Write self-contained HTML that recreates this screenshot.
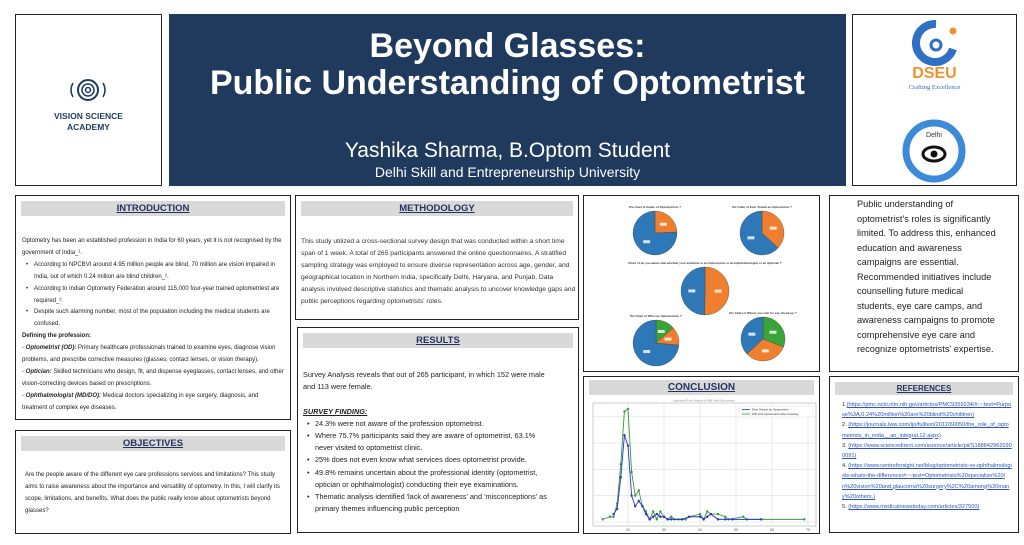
<!DOCTYPE html>
<html><head><meta charset="utf-8"><style>
*{margin:0;padding:0;box-sizing:border-box}
body{width:1024px;height:545px;background:#fff;font-family:"Liberation Sans",sans-serif;position:relative;overflow:hidden;color:#222}
.box{position:absolute;border:1.5px solid #222;background:#fff;overflow:hidden}
.hd{position:absolute;left:5px;right:5px;top:5px;height:15px;background:#d9d9d9;text-align:center;font-weight:bold;font-size:9.5px;line-height:15px;color:#26325e;text-decoration:underline}
.tx{position:absolute;font-size:6px;line-height:11.4px;color:#222}
ul{list-style:none}
li{position:relative;padding-left:12px}
li:before{content:"•";position:absolute;left:4px}
a{color:#2b55c4;text-decoration:underline}
</style></head><body>
<div class="box" style="left:15px;top:14px;width:147px;height:172px">
<svg width="40" height="30" style="position:absolute;left:52px;top:60px">
<circle cx="20" cy="15" r="10" fill="none" stroke="#1e3a5f" stroke-width="2"/><circle cx="20" cy="15" r="6" fill="none" stroke="#1e3a5f" stroke-width="1.5"/><circle cx="20" cy="15" r="2.5" fill="none" stroke="#1e3a5f" stroke-width="1.5"/>
<path d="M5 8 Q1 15 5 22 M35 8 Q39 15 35 22" fill="none" stroke="#1e3a5f" stroke-width="1.5"/></svg>
<div style="position:absolute;left:0;right:0;top:96px;text-align:center;font-weight:bold;font-size:8.5px;line-height:11px;color:#1e3a5f">VISION SCIENCE<br>ACADEMY</div>
</div>
<div style="position:absolute;left:169px;top:14px;width:677px;height:172px;background:#203a5e;color:#fff;text-align:center">
<div style="position:absolute;left:0;right:0;top:14px;font-weight:bold;font-size:34px;line-height:37px">Beyond Glasses:<br>Public Understanding of Optometrist</div>
<div style="position:absolute;left:0;right:0;top:125px;font-size:21px;line-height:24px">Yashika Sharma, B.Optom Student</div>
<div style="position:absolute;left:0;right:0;top:149px;font-size:14px;line-height:18px">Delhi Skill and Entrepreneurship University</div>
</div>
<div class="box" style="left:852px;top:14px;width:165px;height:172px">
<svg width="50" height="50" style="position:absolute;left:58px;top:4px"><path d="M25 5 A19 19 0 1 0 42 30" fill="none" stroke="#2f6fc4" stroke-width="8"/><circle cx="25" cy="26" r="5" fill="none" stroke="#2f6fc4" stroke-width="3"/><circle cx="42" cy="12" r="3.5" fill="#f0922c"/></svg>
<div style="position:absolute;left:0;right:0;top:50px;text-align:center;font-weight:bold;font-size:16px;color:#f0922c">DSEU</div>
<div style="position:absolute;left:0;right:0;top:69px;text-align:center;font-family:'Liberation Serif',serif;font-size:6.5px;color:#2f6fc4">Crafting Excellence</div>
<svg width="64" height="64" style="position:absolute;left:49px;top:104px"><circle cx="32" cy="32" r="28" fill="none" stroke="#3c8ad8" stroke-width="7"/><ellipse cx="32" cy="35" rx="11" ry="7" fill="#fff" stroke="#111" stroke-width="3"/><circle cx="32" cy="35" r="3.5" fill="#111"/><text x="32" y="18" font-size="7" text-anchor="middle" fill="#333" font-family="Liberation Sans">Delhi</text></svg>
</div>

<div class="box" style="left:15px;top:195px;width:276px;height:225px">
<div class="hd">INTRODUCTION</div>
<div class="tx" style="left:6px;top:40px;width:262px;line-height:11.9px">Optometry has been an established profession in India for 60 years, yet it is not recognised by the government of India_¹.
<ul><li>According to NPCBVI around 4.95 million people are blind, 70 million are vision impaired in India, out of which 0.24 million are blind children_².</li>
<li>According to Indian Optometry Federation around 115,000 four-year trained optometriest are required_³.</li>
<li>Despite such alarming number, most of the population including the medical students are confused.</li></ul>
<b>Defining the profession:</b><br>
- <b><i>Optometrist (OD):</i></b> Primary healthcare professionals trained to examine eyes, diagnose vision problems, and prescribe corrective measures (glasses, contact lenses, or vision therapy).<br>
- <b><i>Optician:</i></b> Skilled technicians who design, fit, and dispense eyeglasses, contact lenses, and other vision-correcting devices based on prescriptions.<br>
- <b><i>Ophthalmologist (MD/DO):</i></b> Medical doctors specializing in eye surgery, diagnosis, and treatment of complex eye diseases.</div>
</div>
<div class="box" style="left:15px;top:430px;width:276px;height:104px">
<div class="hd">OBJECTIVES</div>
<div class="tx" style="left:9px;top:38px;width:262px;line-height:12px">Are the people aware of the different eye care professions services and limitations? This study aims to raise awareness about the importance and versatility of optometry. In this, I will clarify its scope, limitations, and benefits. What does the public really know about optometrists beyond glasses?</div>
</div>

<div class="box" style="left:295px;top:195px;width:284px;height:125px">
<div class="hd">METHODOLOGY</div>
<div class="tx" style="left:5px;top:40px;width:277px;font-size:6.7px;line-height:12px;color:#333">This study utilized a cross-sectional survey design that was conducted within a short time span of 1 week. A total of 265 participants answered the online questionnaires. A stratified sampling strategy was employed to ensure diverse representation across age, gender, and geographical location in Northern India, specifically Delhi, Haryana, and Punjab. Data analysis involved descriptive statistics and thematic analysis to uncover knowledge gaps and public perceptions regarding optometrists' roles.</div>
</div>
<div class="box" style="left:297px;top:327px;width:282px;height:206px">
<div class="hd">RESULTS</div>
<div class="tx" style="left:5px;top:41px;width:250px;font-size:7.3px;line-height:12.2px">Survey Analysis reveals that out of 265 participant, in which 152 were male and 113 were female.<br><br>
<b><i><u>SURVEY FINDING:</u></i></b>
<ul><li>24.3% were not aware of the profession optometrist.</li>
<li>Where 75.7% participants said they are aware of optometrist, 63.1% never visited to optometrist clinic.</li>
<li>25% does not even know what services does optometrist provide.</li>
<li>49.8% remains uncertain about the professional identity (optometrist, optician or ophthalmologist) conducting their eye examinations.</li>
<li>Thematic analysis identified 'lack of awareness' and 'misconceptions' as primary themes influencing public perception</li></ul></div>
</div>

<div class="box" style="left:583px;top:195px;width:237px;height:177px">
<svg id="pies" width="234" height="174"></svg>
</div>
<div class="box" style="left:583px;top:376px;width:237px;height:158px">
<div class="hd" style="top:3px;font-size:10px">CONCLUSION</div>
<svg id="chart" width="234" height="135" style="position:absolute;left:0;top:20px"></svg>
</div>

<div class="box" style="left:829px;top:195px;width:190px;height:177px">
<div style="position:absolute;left:27px;top:1px;width:140px;font-size:9.2px;line-height:14.5px;color:#222">Public understanding of optometrist's roles is significantly limited. To address this, enhanced education and awareness campaigns are essential. Recommended initiatives include counselling future medical students, eye care camps, and awareness campaigns to promote comprehensive eye care and recognize optometrists' expertise.</div>
</div>
<div class="box" style="left:829px;top:376px;width:190px;height:157px">
<div class="hd" style="font-size:8px;height:13px;line-height:13px">REFERENCES</div>
<div style="position:absolute;left:12px;top:23px;width:170px;font-size:5.6px;line-height:10.2px;color:#333;word-break:break-all">
1.<a>(https://pmc.ncbi.nlm.nih.gov/articles/PMC9359234/#:~:text=Purpose%3A,0.24%20million%20are%20blind%20children)</a><br>
2. <a>(https://journals.lww.com/ijo/fulltext/2012/60050/the_role_of_optometrists_in_india__an_integral.12.aspx)</a><br>
3. <a>(https://www.sciencedirect.com/science/article/pii/S1888429620300091)</a><br>
4. <a>(https://www.centreforsight.net/blog/optometrists-vs-ophthalmologists-whats-the-difference/#:~:text=Optometrists%20specialize%20in%20vision%20and,glaucoma%20surgery%2C%20among%20many%20others.)</a><br>
5. <a>(https://www.medicalnewstoday.com/articles/327500)</a></div>
</div>

<script>
const pieTitles=["Pie chart of Aware of Optometrists ?","Pie Chart of Ever Visited an Optometrist ?","Chart of do you aware that whether your examiner is an Optometrist or an Ophthalmologist or an Optician ?","Pie Chart of Who are Optometrists ?","Pie Chart of Whom you visit for eye check-up ?"];
const pie1=[24.3,75.7];
const pie2=[36.9,63.1];
const pie3=[50.2,49.8];
const pie4=[13.5,13.0,73.5];
const pie5=[31,32,37];
const pieColors=[["#ef7f2f","#2f78b8"],["#ef7f2f","#2f78b8"],["#ef7f2f","#2f78b8"],["#3aa33a","#ef7f2f","#2f78b8"],["#3aa33a","#ef7f2f","#2f78b8"]];
const pieLayout=[[71,37,22],[178,37,22],[121,95,24],[72,147,23],[179,143,22]];
const NS="http://www.w3.org/2000/svg";
function mk(t,a,p){const e=document.createElementNS(NS,t);for(const k in a)e.setAttribute(k,a[k]);p.appendChild(e);return e;}
const ps=document.getElementById('pies');
[pie1,pie2,pie3,pie4,pie5].forEach((vals,i)=>{
  const [cx,cy,r]=pieLayout[i];const tot=vals.reduce((a,b)=>a+b,0);let a0=-Math.PI/2;
  const t=mk('text',{x:cx,y:cy-r-3,'font-size':3,'text-anchor':'middle','font-weight':'bold',fill:'#333','font-family':'Liberation Sans'},ps);
  t.textContent=pieTitles[i];
  
  
  vals.forEach((v,j)=>{
    const a1=a0+v/tot*2*Math.PI;const large=(a1-a0)>Math.PI?1:0;
    const d=`M${cx},${cy} L${cx+r*Math.cos(a0)},${cy+r*Math.sin(a0)} A${r},${r} 0 ${large} 1 ${cx+r*Math.cos(a1)},${cy+r*Math.sin(a1)} Z`;
    const s=mk('path',{d:d,fill:pieColors[i][j],stroke:'#333','stroke-width':0.3},ps);
    
    
    const am=(a0+a1)/2;
    mk('rect',{x:cx+r*0.55*Math.cos(am)-3.5,y:cy+r*0.55*Math.sin(am)-1.5,width:7,height:3,fill:'#fff',opacity:0.8},ps);
    a0=a1;
  });
});

const ageVisited=[16,17,18,19,20,21,22,23,24,25,26,27,28,29,30,31,32,35,37,40,41,42,43,45,47,49,57];
const countVisited=[3,5,17,33,29,10,6,8,6,3,1,2,3,2,2,1,1,1,2,2,1,2,3,1,1,1,1];
const ageWillVisit=[13,15,16,17,18,19,20,21,22,23,24,25,26,27,28,29,30,31,32,33,34,35,36,37,40,41,42,43,45,47,48,52,53,69];
const countWillVisit=[1,2,2,7,22,42,43,19,10,12,6,4,1,4,1,4,2,1,2,1,1,1,1,2,3,1,4,3,3,2,1,2,1,1];
const xTicks=[20,30,40,50,60,70];
const yTicks=[0,10,20,30,40];
const cs=document.getElementById('chart');
const X=v=>44+(v-20)*3.6;
const Y=v=>125-v*2.63;
mk('rect',{x:9,y:6,width:223,height:123,fill:'#fff',stroke:'#999','stroke-width':0.5},cs);
xTicks.forEach(t=>{mk('line',{x1:X(t),x2:X(t),y1:6,y2:129,stroke:'#ddd','stroke-width':0.6},cs);
  const l=mk('text',{x:X(t),y:134,'font-size':3.5,'text-anchor':'middle',fill:'#555','font-family':'Liberation Sans'},cs);l.textContent=t;});
yTicks.forEach(t=>{mk('line',{x1:9,x2:232,y1:Y(t),y2:Y(t),stroke:'#ddd','stroke-width':0.6},cs);});
function series(xs,ys,col,name){
  const pl=mk('polyline',{points:xs.map((x,i)=>X(x)+','+Y(ys[i])).join(' '),fill:'none',stroke:col,'stroke-width':0.9},cs);
  
  
  xs.forEach((x,i)=>{const p=mk('circle',{cx:X(x),cy:Y(ys[i]),r:1.2,fill:col},cs);
    
    });
}
series(ageWillVisit,countWillVisit,'#3a9a3a','will-visit');
series(ageVisited,countVisited,'#2a35c8','ever-visited');
const lg=mk('g',{},cs);


mk('rect',{x:155,y:9,width:74,height:11,fill:'#fff',stroke:'#ccc','stroke-width':0.3},lg);
mk('line',{x1:158,x2:166,y1:12.5,y2:12.5,stroke:'#2a35c8','stroke-width':0.8},lg);
mk('line',{x1:158,x2:166,y1:17,y2:17,stroke:'#3a9a3a','stroke-width':0.8},lg);
const t1=mk('text',{x:168,y:13.5,'font-size':3,fill:'#333','font-family':'Liberation Sans'},lg);t1.textContent='Ever Visited an Optometrist';
const t2=mk('text',{x:168,y:18,'font-size':3,fill:'#333','font-family':'Liberation Sans'},lg);t2.textContent='Will Visit Optometrist after knowing';
const ct=mk('text',{x:120,y:4.5,'font-size':3,'text-anchor':'middle',fill:'#888','font-family':'Liberation Sans'},cs);ct.textContent='Age-wise Ever Visited vs Will Visit Optometrist';
</script>
</body></html>
